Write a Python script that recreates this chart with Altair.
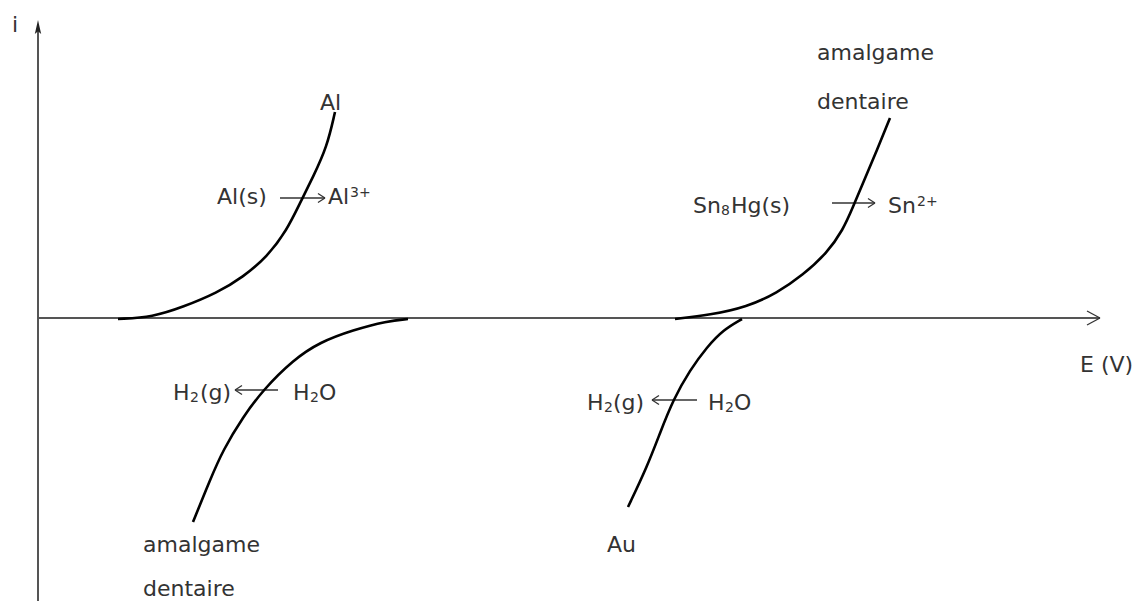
import altair as alt
import pandas as pd

# ---- curve data (E and i in arbitrary units) ----
al_ox_E = [80, 115, 145, 179, 205, 229, 249, 262, 275, 289, 297]
al_ox_i = [-1, 1, 11, 25, 41, 61, 88, 115, 141, 171, 206]

amal_red_E = [370, 349, 315, 282, 255, 225, 205, 185, 172, 155]
amal_red_i = [-1, -3, -12, -24, -42, -72, -99, -132, -162, -204]

amal_ox_E = [637, 672, 709, 739, 765, 789, 805, 815, 825, 839, 852]
amal_ox_i = [-1, 3, 11, 25, 43, 65, 88, 111, 135, 168, 200]

au_red_E = [704, 685, 669, 652, 635, 622, 609, 590]
au_red_i = [-1, -12, -29, -52, -82, -115, -149, -189]

curve_names = ["Al ox", "amalgame red", "amalgame ox", "Au red"]
curve_E = [al_ox_E, amal_red_E, amal_ox_E, au_red_E]
curve_i = [al_ox_i, amal_red_i, amal_ox_i, au_red_i]

# ---- text annotations: text, E, i (baseline), kind (n = normal, s = small sub/sup) ----
label_text = ["i", "E (V)", "Al",
              "Al(s)", "Al", "3+",
              "H", "2", "(g)", "H", "2", "O",
              "amalgame", "dentaire",
              "amalgame", "dentaire",
              "Sn", "8", "Hg(s)", "Sn", "2+",
              "Au",
              "H", "2", "(g)", "H", "2", "O"]
label_E = [-26, 1042, 282,
           179, 290, 312,
           135, 152, 162, 255, 272, 281,
           105, 105,
           779, 779,
           655, 683, 693, 850, 879,
           569,
           549, 566, 575, 670, 687, 696]
label_i = [286, -54, 208,
           114, 114, 121,
           -82, -84, -82, -82, -84, -82,
           -234, -278,
           258, 209,
           105, 103, 105, 105, 112,
           -234,
           -92, -94, -92, -92, -94, -92]
label_kind = ["n", "n", "n",
              "n", "n", "s",
              "n", "s", "n", "n", "s", "n",
              "n", "n",
              "n", "n",
              "n", "s", "n", "n", "s",
              "n",
              "n", "s", "n", "n", "s", "n"]

# ---- reaction arrows: tail E, tip E, level i ----
arr_tail = [242, 240, 794, 659]
arr_tip = [287, 197, 837, 614]
arr_lvl = [120, -72, 115, -82]

# ---- axes ----
axis_E1 = [0, 0]
axis_i1 = [-290, 0]
axis_E2 = [0, 1062]
axis_i2 = [291, 0]

W, H = 1126, 593
x_scale = alt.Scale(domain=[-30, 1096], nice=False, zero=False)
y_scale = alt.Scale(domain=[-283, 310], nice=False, zero=False)

rows = []
for name, es, is_ in zip(curve_names, curve_E, curve_i):
    for k, (e, v) in enumerate(zip(es, is_)):
        rows.append({"curve": name, "E": e, "i": v, "k": k})
curves_df = pd.DataFrame(rows)

labels_df = pd.DataFrame({"text": label_text, "E": label_E, "i": label_i, "kind": label_kind})
axis_df = pd.DataFrame({"E1": axis_E1, "i1": axis_i1, "E2": axis_E2, "i2": axis_i2})

seg = []
for t, p, l in zip(arr_tail, arr_tip, arr_lvl):
    d = 1 if p > t else -1
    seg.append({"E1": t, "i1": l, "E2": p, "i2": l})
    seg.append({"E1": p, "i1": l, "E2": p - d * 7, "i2": l + 4.5})
    seg.append({"E1": p, "i1": l, "E2": p - d * 7, "i2": l - 4.5})
seg.append({"E1": axis_E2[1], "i1": 0, "E2": axis_E2[1] - 13, "i2": 7})
seg.append({"E1": axis_E2[1], "i1": 0, "E2": axis_E2[1] - 13, "i2": -7})
arrow_df = pd.DataFrame(seg)

head_df = pd.DataFrame({"E": [0], "i": [291]})

X = lambda f: alt.X(f, type="quantitative", scale=x_scale, axis=None)
Y = lambda f: alt.Y(f, type="quantitative", scale=y_scale, axis=None)

axes = alt.Chart(axis_df).mark_rule(color="#555555", strokeWidth=2).encode(
    x=X("E1"), y=Y("i1"), x2="E2", y2="i2")

arrows = alt.Chart(arrow_df).mark_rule(color="#333333", strokeWidth=1.3).encode(
    x=X("E1"), y=Y("i1"), x2="E2", y2="i2")

head = alt.Chart(head_df).mark_point(
    shape="M0,-1L-0.45,1L0,0.6L0.45,1Z", size=200, filled=True, color="#222222", opacity=1
).encode(x=X("E"), y=Y("i"))

curves = alt.Chart(curves_df).mark_line(color="black", strokeWidth=2.6, interpolate="basis").encode(
    x=X("E"), y=Y("i"), detail="curve:N", order="k:Q")

text_base = alt.Chart(labels_df).mark_text(
    align="left", baseline="alphabetic", font="DejaVu Sans", color="#333333")
labels_n = text_base.transform_filter(alt.datum.kind == "n").encode(
    x=X("E"), y=Y("i"), text="text:N", size=alt.value(22))
labels_s = text_base.transform_filter(alt.datum.kind == "s").encode(
    x=X("E"), y=Y("i"), text="text:N", size=alt.value(14))

chart = alt.layer(axes, arrows, head, curves, labels_n, labels_s).properties(
    width=W, height=H, padding=0, autosize=alt.AutoSizeParams(type="none")
).configure_view(stroke=None)

chart.save("out.html", embed_options={"renderer": "svg", "actions": False})
